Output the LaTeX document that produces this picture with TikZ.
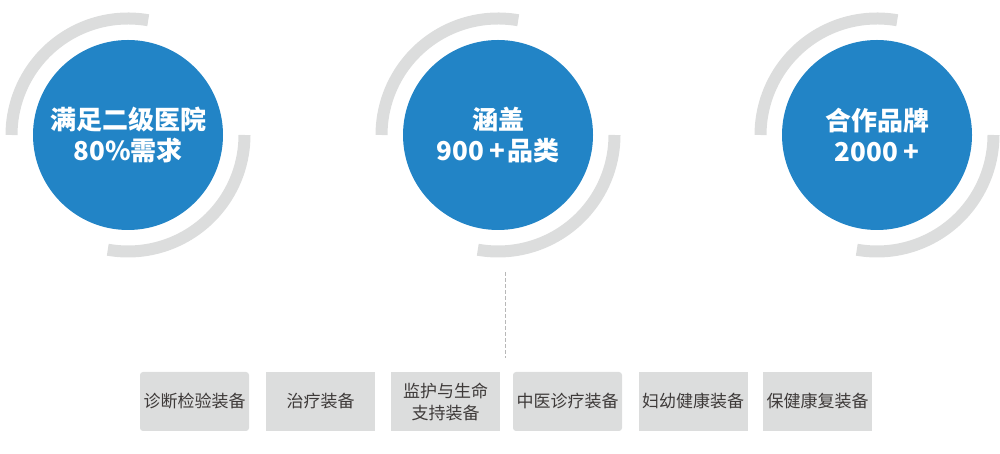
\documentclass[tikz,border=0pt]{standalone}
\usepackage{fontspec}
\newfontfamily\cjk{Noto Sans CJK SC}
\definecolor{cblue}{HTML}{2284C6}
\definecolor{cgray}{HTML}{DCDDDD}
\definecolor{ctext}{HTML}{3E3A39}
\definecolor{cdash}{HTML}{B8B8B8}
\newcommand{\pplus}{\hspace{5pt}+\hspace{2pt}}
\begin{document}
\begin{tikzpicture}[x=1pt,y=1pt,
  bigcirc/.style={circle,fill=cblue,minimum size=190pt,inner sep=0pt,text=white,align=center,
    font=\cjk\bfseries\fontsize{26}{31}\selectfont},
  ring/.style={draw=cgray,line width=12pt,line cap=butt},
  itembox/.style={fill=cgray,minimum width=109pt,minimum height=59pt,inner sep=0pt,text=ctext,align=center,
    font=\cjk\fontsize{17}{22}\selectfont},
  roundbox/.style={itembox,rounded corners=3pt},
  guide/.style={draw=cdash,line width=1pt,dash pattern=on 4pt off 2pt}]
\useasboundingbox (0,0) rectangle (1000,454);
% circles
\node[bigcirc] (c1) at (128,319) {满足二级医院\\80\%需求};
\node[bigcirc] (c2) at (498,319) {涵盖\\900\pplus 品类};
\node[bigcirc] (c3) at (877,319) {合作品牌\\2000\pplus};
% rings
\foreach \c in {c1,c2,c3}{
  \draw[ring] ([shift={(80:116.5)}]\c.center) arc[start angle=80,end angle=180,radius=116.5];
  \draw[ring] ([shift={(-100:116.5)}]\c.center) arc[start angle=-100,end angle=0,radius=116.5];
}
% dashed guide
\coordinate (g1) at (505,182);
\coordinate (g2) at (505,96);
\draw[guide] (g1) -- (g2);
% boxes
\node[roundbox] (b1) at (194.5,52.5) {诊断检验装备};
\node[itembox] (b2) at (320.5,52.5) {治疗装备};
\node[itembox] (b3) at (445.5,52.5) {监护与生命\\支持装备};
\node[roundbox] (b4) at (567.5,52.5) {中医诊疗装备};
\node[itembox] (b5) at (693,52.5) {妇幼健康装备};
\node[itembox] (b6) at (817.5,52.5) {保健康复装备};
\end{tikzpicture}
\end{document}
